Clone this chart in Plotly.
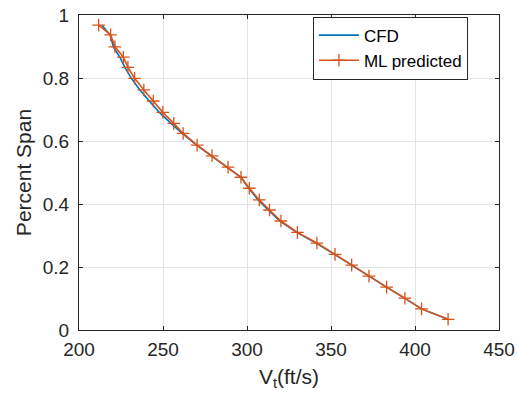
import plotly.graph_objects as go

# CFD data
cfd_x = [213.5, 218.5, 220.5, 224.3, 227.3, 231.2, 236.2, 241.8, 247.8, 254.8,
         261.4, 270.0, 279.0, 288.5, 296.4, 301.0, 306.6, 312.6, 319.6, 329.6,
         341.1, 352.1, 362.0, 372.3, 383.0, 393.8, 403.8, 419.7]
cfd_y = [0.968, 0.937, 0.899, 0.866, 0.834, 0.799, 0.762, 0.727, 0.691, 0.656,
         0.624, 0.587, 0.553, 0.517, 0.485, 0.450, 0.413, 0.381, 0.346, 0.310,
         0.276, 0.240, 0.206, 0.171, 0.136, 0.101, 0.067, 0.034]

# ML predicted data
ml_x = [211.7, 218.8, 221.4, 226.4, 229.1, 233.1, 238.6, 244.2, 249.9, 256.4,
        262.0, 270.3, 279.2, 288.7, 296.4, 301.4, 307.3, 313.4, 320.2, 330.0,
        341.6, 352.4, 362.3, 372.6, 383.1, 394.0, 403.9, 419.7]
ml_y = [0.968, 0.937, 0.899, 0.866, 0.834, 0.799, 0.762, 0.727, 0.691, 0.656,
        0.624, 0.587, 0.553, 0.517, 0.485, 0.450, 0.413, 0.381, 0.346, 0.310,
        0.276, 0.240, 0.206, 0.171, 0.136, 0.101, 0.067, 0.034]

x_ticks = [200, 250, 300, 350, 400, 450]
y_ticks = [0, 0.2, 0.4, 0.6, 0.8, 1]
y_ticktext = ["0", "0.2", "0.4", "0.6", "0.8", "1"]

BLUE = "#0072BD"
ORANGE = "#D95319"
AXC = "#262626"
FONT = "Arial, Liberation Sans, sans-serif"

fig = go.Figure()
fig.add_trace(go.Scatter(x=cfd_x, y=cfd_y, mode="lines", name="CFD",
                         line=dict(color=BLUE, width=1.6)))
fig.add_trace(go.Scatter(x=ml_x, y=ml_y, mode="lines+markers", name="ML predicted",
                         line=dict(color=ORANGE, width=1.6),
                         marker=dict(symbol="cross-thin", size=9,
                                     line=dict(color=ORANGE, width=1.3))))

axis_common = dict(showline=True, linecolor=AXC, linewidth=1, mirror="ticks",
                   ticks="inside", ticklen=4, tickcolor=AXC, automargin=False,
                   showgrid=True, gridcolor="#e3e3e3", gridwidth=1,
                   zeroline=False, tickfont=dict(family=FONT, size=19, color=AXC))

fig.update_xaxes(range=[200, 450], tickvals=x_ticks, ticklabelstandoff=2,
                 title=dict(text="V<sub>t</sub>(ft/s)", font=dict(family=FONT, size=21, color=AXC),
                            standoff=10),
                 **axis_common)
fig.update_yaxes(range=[0, 1], tickvals=y_ticks, ticktext=y_ticktext, ticklabelstandoff=5,
                 title=dict(text="Percent Span", font=dict(family=FONT, size=21, color=AXC),
                            standoff=5),
                 **axis_common)

fig.update_layout(
    width=517, height=401,
    margin=dict(l=79, r=18, t=15, b=71),
    paper_bgcolor="white", plot_bgcolor="white",
    font=dict(family=FONT, color=AXC),
    legend=dict(x=0.557, y=0.995, xanchor="left", yanchor="top",
                bgcolor="white", bordercolor="#262626", borderwidth=1,
                font=dict(family=FONT, size=17, color="black"),
                tracegroupgap=0, itemwidth=40),
    showlegend=True,
)

fig.write_html("out.html", config={"displayModeBar": False},
               post_script="document.body.style.margin='0px';document.body.style.padding='0px';document.body.style.overflow='hidden';")
